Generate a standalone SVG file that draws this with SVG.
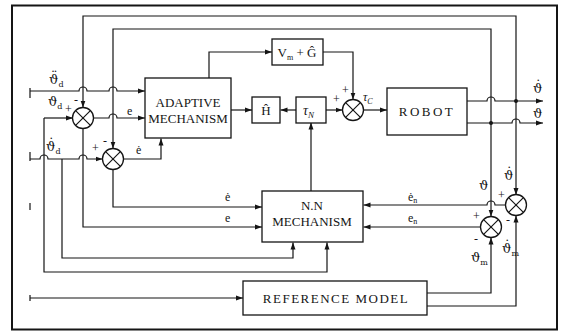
<svg xmlns="http://www.w3.org/2000/svg" width="567" height="333" viewBox="0 0 567 333">
<defs>
<style>
.ln{fill:none;stroke:#151515;stroke-width:1.2}
.bx{fill:#fff;stroke:#151515;stroke-width:1.3}
.fr{fill:none;stroke:#151515;stroke-width:2}
.t{font-family:"Liberation Serif","DejaVu Serif",serif;fill:#151515}
.g{font-family:"DejaVu Serif","Liberation Serif",serif;font-size:13px;fill:#151515}
.b{font-size:13px;text-anchor:middle}
.l{font-size:12px}
.s{font-size:8px}
.j{fill:#fff;stroke:#151515;stroke-width:1.3}
</style>
<marker id="a" markerWidth="8" markerHeight="6" refX="7" refY="3" orient="auto" markerUnits="userSpaceOnUse"><path d="M0,0.5 L7,3 L0,5.5z" fill="#151515"/></marker>
</defs>
<rect width="567" height="333" fill="#fff"/>
<rect class="fr" x="12" y="5.5" width="545" height="324"/>

<g id="connectors">
<path class="ln" d="M30,91 H79 a4,4 0 0 1 8,0 H109 a4,4 0 0 1 8,0 H145" marker-end="url(#a)"/>
<path class="ln" d="M30,88 V98 M30,152 V161 M30,295 V301 M30,203 V210"/>
<path class="ln" d="M44,118 H73" marker-end="url(#a)"/>
<path class="ln" d="M44,118 V272 H327 V242.5" marker-end="url(#a)"/>
<path class="ln" d="M30,159 H40 a4,4 0 0 1 8,0 H79 a4,4 0 0 1 8,0 H102.5" marker-end="url(#a)"/>
<path class="ln" d="M62,159 V258 H293 V242.5" marker-end="url(#a)"/>
<path class="ln" d="M516,101 V16 H83 V107.5" marker-end="url(#a)"/>
<path class="ln" d="M516,101 V195" marker-end="url(#a)"/>
<path class="ln" d="M491,123 V29 H113 V148.5" marker-end="url(#a)"/>
<path class="ln" d="M491,123 V216.5" marker-end="url(#a)"/>
<path class="ln" d="M93.5,118 H109 a4,4 0 0 1 8,0 H145" marker-end="url(#a)"/>
<path class="ln" d="M83,128.5 V227 H262" marker-end="url(#a)"/>
<path class="ln" d="M123.5,159 H161 V138.5" marker-end="url(#a)"/>
<path class="ln" d="M113,169.5 V207 H262" marker-end="url(#a)"/>
<path class="ln" d="M231,110 H252" marker-end="url(#a)"/>
<path class="ln" d="M209,78 V52 H272" marker-end="url(#a)"/>
<path class="ln" d="M323,52 H353 V99.5" marker-end="url(#a)"/>
<path class="ln" d="M296,110 H280.5" marker-end="url(#a)"/>
<path class="ln" d="M326,110 H342.5" marker-end="url(#a)"/>
<path class="ln" d="M363.5,110 H387" marker-end="url(#a)"/>
<path class="ln" d="M311,191 V122.5" marker-end="url(#a)"/>
<path class="ln" d="M467,101 H487 a4,4 0 0 1 8,0 H543" marker-end="url(#a)"/>
<path class="ln" d="M467,123 H512 a4,4 0 0 1 8,0 H543" marker-end="url(#a)"/>
<circle cx="516" cy="101" r="2" fill="#151515"/>
<circle cx="491" cy="123" r="2" fill="#151515"/>
<path class="ln" d="M505.5,205 H495 a4,4 0 0 0 -8,0 H363.5" marker-end="url(#a)"/>
<path class="ln" d="M480.5,227 H363.5" marker-end="url(#a)"/>
<path class="ln" d="M30,298 H243" marker-end="url(#a)"/>
<path class="ln" d="M427,293 H491 V237.5" marker-end="url(#a)"/>
<path class="ln" d="M427,306 H516 V215.5" marker-end="url(#a)"/>
</g>

<g id="sum1">
<circle class="j" cx="83" cy="118" r="10.5"/>
<path class="ln" d="M75.6,110.6 L90.4,125.4 M90.4,110.6 L75.6,125.4"/>
</g>
<g id="sum2">
<circle class="j" cx="113" cy="159" r="10.5"/>
<path class="ln" d="M105.6,151.6 L120.4,166.4 M120.4,151.6 L105.6,166.4"/>
</g>
<g id="sum3">
<circle class="j" cx="353" cy="110" r="10.5"/>
<path class="ln" d="M345.6,102.6 L360.4,117.4 M360.4,102.6 L345.6,117.4"/>
</g>
<g id="sum4">
<circle class="j" cx="516" cy="205" r="10.5"/>
<path class="ln" d="M508.6,197.6 L523.4,212.4 M523.4,197.6 L508.6,212.4"/>
</g>
<g id="sum5">
<circle class="j" cx="491" cy="227" r="10.5"/>
<path class="ln" d="M483.6,219.6 L498.4,234.4 M498.4,219.6 L483.6,234.4"/>
</g>

<g id="adaptive">
<rect class="bx" x="145" y="78" width="86" height="60"/>
<text class="t b" x="188" y="107">ADAPTIVE</text>
<text class="t b" x="188" y="123">MECHANISM</text>
</g>
<g id="vmg">
<rect class="bx" x="272" y="39" width="51" height="26"/>
<text class="t b" x="297" y="57">V<tspan class="s" dy="3">m</tspan><tspan dy="-3"> + Ĝ</tspan></text>
</g>
<g id="hhat">
<rect class="bx" x="252" y="97" width="28" height="26"/>
<text class="t b" x="266" y="115">Ĥ</text>
</g>
<g id="taun">
<rect class="bx" x="296" y="97" width="30" height="26"/>
<text class="t" x="303" y="115" font-size="14" font-style="italic">τ<tspan font-size="9" dy="3">N</tspan></text>
</g>
<g id="robot">
<rect class="bx" x="387" y="88" width="80" height="47"/>
<text class="t b" x="427" y="116" letter-spacing="2.5">ROBOT</text>
</g>
<g id="nn">
<rect class="bx" x="262" y="191" width="101" height="51"/>
<text class="t b" x="312" y="210">N.N</text>
<text class="t b" x="312" y="226">MECHANISM</text>
</g>
<g id="refmodel">
<rect class="bx" x="243" y="281" width="184" height="34"/>
<text class="t b" x="336" y="303" letter-spacing="1.5">REFERENCE  MODEL</text>
</g>

<g id="labels">
<text class="g" x="49" y="84">ϑ<tspan dx="-7.4" dy="-3">¨</tspan><tspan class="s" dx="1" dy="6">d</tspan></text>
<text class="g" x="48" y="106">ϑ<tspan class="s" dy="3">d</tspan></text>
<text class="t l" x="65" y="113">+</text>
<text class="t l" x="74" y="104">-</text>
<text class="g" x="46" y="151">ϑ<tspan dx="-7.4" dy="-3">˙</tspan><tspan class="s" dx="1" dy="6">d</tspan></text>
<text class="t l" x="92" y="152">+</text>
<text class="t l" x="103" y="145">-</text>
<text class="t l" x="127" y="115">e</text>
<text class="t l" x="136" y="154">ė</text>
<text class="t l" x="342" y="94">+</text>
<text class="t l" x="333" y="103">+</text>
<text class="t l" x="363" y="101" font-style="italic">τ<tspan class="s" dy="3">C</tspan></text>
<text class="g" x="533" y="93">ϑ<tspan dx="-7.4" dy="-3">˙</tspan></text>
<text class="g" x="533" y="118">ϑ</text>
<text class="t l" x="225" y="201">ė</text>
<text class="t l" x="225" y="222">e</text>
<text class="t l" x="408" y="201">ė<tspan class="s" dy="2">n</tspan></text>
<text class="t l" x="408" y="222">e<tspan class="s" dy="2">n</tspan></text>
<text class="g" x="479" y="190">ϑ</text>
<text class="g" x="504" y="180">ϑ<tspan dx="-7.4" dy="-3">˙</tspan></text>
<text class="t l" x="498" y="199">+</text>
<text class="t l" x="506" y="224">-</text>
<text class="t l" x="473" y="220">+</text>
<text class="t l" x="474" y="243">-</text>
<text class="g" x="471" y="262">ϑ<tspan class="s" dy="3">m</tspan></text>
<text class="g" x="502" y="253">ϑ<tspan dx="-7.4" dy="-3">˙</tspan><tspan class="s" dx="1" dy="6">m</tspan></text>
</g>
</svg>
